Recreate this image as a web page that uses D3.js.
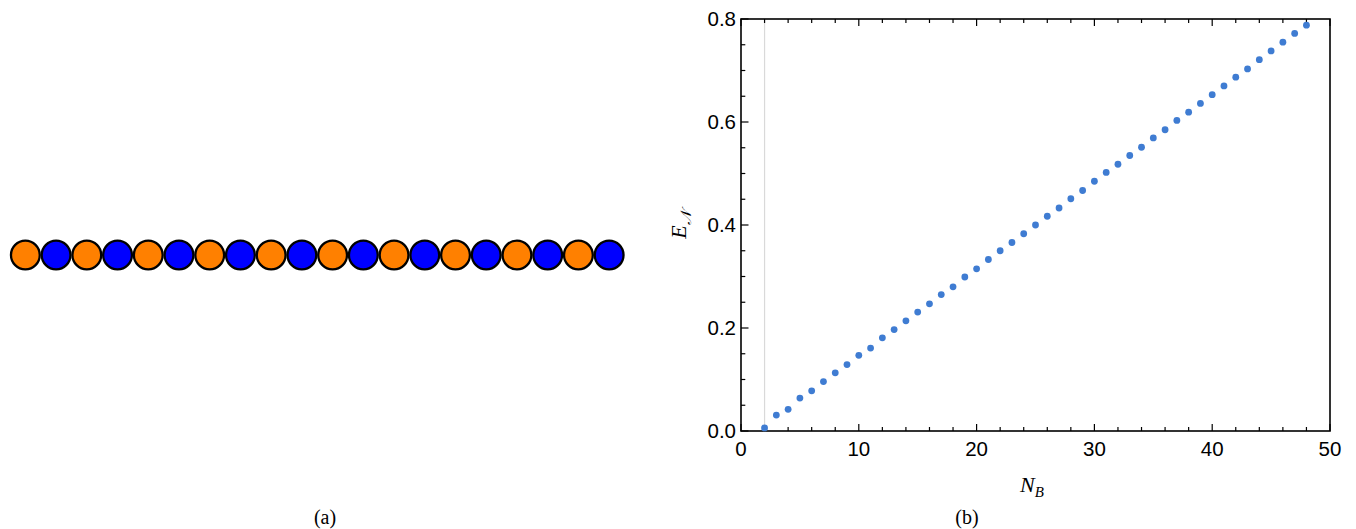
<!DOCTYPE html>
<html>
<head>
<meta charset="utf-8">
<script src="https://cdn.jsdelivr.net/npm/d3@7"></script>
<style>
  body { margin: 0; background: #fff; }
  svg { display: block; }
</style>
</head>
<body>
<div id="chart"></div>
<script>
// (a) the chain of sites, alternating A / B
var chainSites = ["A", "B", "A", "B", "A", "B", "A", "B", "A", "B",
                  "A", "B", "A", "B", "A", "B", "A", "B", "A", "B"];
var siteColors = { A: "#ff8000", B: "#0000ff" };

// (b) negativity vs N_B
var nB = [2, 3, 4, 5, 6, 7, 8, 9, 10, 11, 12, 13, 14, 15, 16, 17, 18, 19, 20, 21, 22, 23, 24, 25,
          26, 27, 28, 29, 30, 31, 32, 33, 34, 35, 36, 37, 38, 39, 40, 41, 42, 43, 44, 45, 46, 47, 48];
var eN = [0.006, 0.031, 0.042, 0.064, 0.078, 0.096, 0.113, 0.129, 0.147, 0.161, 0.181, 0.197,
          0.214, 0.231, 0.247, 0.265, 0.280, 0.299, 0.315, 0.333, 0.350, 0.366, 0.383, 0.400,
          0.417, 0.433, 0.451, 0.467, 0.485, 0.502, 0.518, 0.535, 0.551, 0.569, 0.585, 0.603,
          0.619, 0.636, 0.653, 0.670, 0.687, 0.703, 0.721, 0.738, 0.755, 0.772, 0.788];
var xTicks = [0, 10, 20, 30, 40, 50];
var yTicks = [0.0, 0.2, 0.4, 0.6, 0.8];

var width = 1356;
var height = 529;
var sansFont = "'Liberation Sans', Arial, sans-serif";
var serifFont = "'Liberation Serif', 'DejaVu Serif', serif";

var svg = d3.select("#chart")
  .append("svg")
  .attr("width", width)
  .attr("height", height);

// ---- panel (a) ----
var chainX = d3.scaleBand()
  .domain(d3.range(chainSites.length))
  .range([10, 624.5])
  .padding(0);

svg.append("g")
  .selectAll("circle")
  .data(chainSites)
  .enter().append("circle")
  .attr("cx", function(d, i) { return chainX(i) + chainX.bandwidth() / 2; })
  .attr("cy", 255)
  .attr("r", 14.4)
  .style("fill", function(d) { return siteColors[d]; })
  .style("stroke", "#000")
  .style("stroke-width", 2.3);

svg.append("text")
  .attr("x", 325)
  .attr("y", 524)
  .attr("text-anchor", "middle")
  .attr("font-family", serifFont)
  .attr("font-size", 20)
  .text("(a)");

// ---- panel (b) ----
// note: "top" is taken by window.top, so use plot* names
var plotLeft = 741, plotRight = 1330, plotTop = 19, plotBottom = 431;

var x = d3.scaleLinear().domain([0, 50]).range([plotLeft, plotRight]);
var y = d3.scaleLinear().domain([0, 0.8]).range([plotBottom, plotTop]);

var g = svg.append("g");

// light vertical line at the origin of the data
g.append("line")
  .attr("x1", x(2)).attr("x2", x(2))
  .attr("y1", plotTop).attr("y2", plotBottom)
  .style("stroke", "#d9d9d9")
  .style("stroke-width", 1.2);

// minor + major ticks, pointing inward
var xMinor = d3.range(0, 50.001, 2);
var yMinor = d3.range(0, 0.8001, 0.05);

function isMajorX(v) { return Math.abs(v / 10 - Math.round(v / 10)) < 1e-6; }
function isMajorY(v) { return Math.abs(v / 0.2 - Math.round(v / 0.2)) < 1e-6; }

g.selectAll(".xtick-b")
  .data(xMinor)
  .enter().append("line")
  .attr("x1", function(d) { return x(d); })
  .attr("x2", function(d) { return x(d); })
  .attr("y1", plotBottom)
  .attr("y2", function(d) { return plotBottom - (isMajorX(d) ? 7 : 4); })
  .style("stroke", "#000").style("stroke-width", 1.2);

g.selectAll(".xtick-t")
  .data(xMinor)
  .enter().append("line")
  .attr("x1", function(d) { return x(d); })
  .attr("x2", function(d) { return x(d); })
  .attr("y1", plotTop)
  .attr("y2", function(d) { return plotTop + (isMajorX(d) ? 7 : 4); })
  .style("stroke", "#000").style("stroke-width", 1.2);

g.selectAll(".ytick")
  .data(yMinor)
  .enter().append("line")
  .attr("y1", function(d) { return y(d); })
  .attr("y2", function(d) { return y(d); })
  .attr("x1", plotLeft)
  .attr("x2", function(d) { return plotLeft + (isMajorY(d) ? 7.5 : 4.3); })
  .style("stroke", "#000").style("stroke-width", 1.2);

// frame
g.append("rect")
  .attr("x", plotLeft).attr("y", plotTop)
  .attr("width", plotRight - plotLeft).attr("height", plotBottom - plotTop)
  .style("fill", "none")
  .style("stroke", "#000")
  .style("stroke-width", 1.6);

// tick labels
g.selectAll(".xlab")
  .data(xTicks)
  .enter().append("text")
  .attr("x", function(d) { return x(d); })
  .attr("y", plotBottom + 25)
  .attr("text-anchor", "middle")
  .attr("font-family", sansFont)
  .attr("font-size", 20.5)
  .text(function(d) { return d; });

g.selectAll(".ylab")
  .data(yTicks)
  .enter().append("text")
  .attr("x", plotLeft - 5)
  .attr("y", function(d) { return y(d) + 7; })
  .attr("text-anchor", "end")
  .attr("font-family", sansFont)
  .attr("font-size", 20.5)
  .text(function(d) { return d.toFixed(1); });

// points
g.selectAll(".pt")
  .data(nB)
  .enter().append("circle")
  .attr("cx", function(d) { return x(d); })
  .attr("cy", function(d, i) { return y(eN[i]); })
  .attr("r", 3.4)
  .style("fill", "#3f7cd2");

// axis titles
var xt = svg.append("text")
  .attr("x", 1032)
  .attr("y", 492)
  .attr("text-anchor", "middle")
  .attr("font-family", serifFont)
  .attr("font-style", "italic")
  .attr("font-size", 22);
xt.append("tspan").text("N");
xt.append("tspan").attr("dy", 5).attr("font-size", 15).text("B");

var yt = svg.append("text")
  .attr("transform", "translate(686," + 225 + ") rotate(-90)")
  .attr("text-anchor", "middle")
  .attr("font-family", serifFont)
  .attr("font-style", "italic")
  .attr("font-size", 22);
yt.append("tspan").text("E");
yt.append("tspan").attr("dy", 5).attr("font-size", 15).text("\uD835\uDCA9");

svg.append("text")
  .attr("x", 967)
  .attr("y", 524)
  .attr("text-anchor", "middle")
  .attr("font-family", serifFont)
  .attr("font-size", 20)
  .text("(b)");
</script>
</body>
</html>
